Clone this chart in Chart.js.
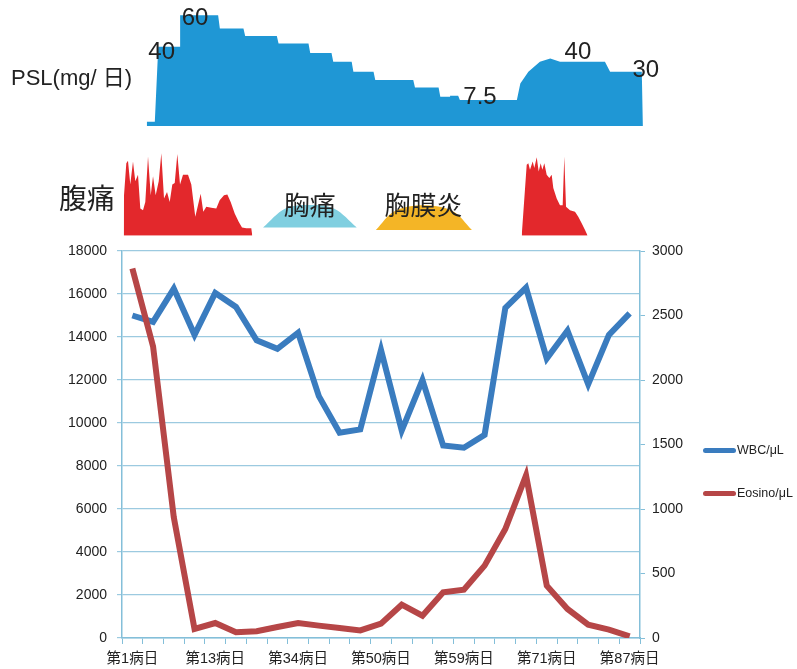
<!DOCTYPE html>
<html>
<head>
<meta charset="utf-8">
<script src="https://cdn.jsdelivr.net/npm/chart.js@4.4.1/dist/chart.umd.min.js"></script>
<style>
  html, body { margin: 0; padding: 0; background: #fff; }
  #wrap { position: relative; width: 797px; height: 669px; overflow: hidden; font-family: "Liberation Sans", Arial, "Noto Sans CJK JP", sans-serif; color: #222; }
  canvas { position: absolute; left: 0; }
  .lbl { position: absolute; white-space: nowrap; line-height: 1; }
  .leg { position: absolute; left: 703px; font-size: 12.5px; line-height: 1; }
  .leg i { display: inline-block; width: 33px; height: 5px; border-radius: 3px; vertical-align: middle; margin-right: 1px; }
  .leg span { vertical-align: middle; }
</style>
</head>
<body>
<div id="wrap">
  <canvas id="pslChart" width="797" height="135" style="top:0"></canvas>
  <canvas id="symChart" width="797" height="105" style="top:140px"></canvas>
  <canvas id="labChart" width="797" height="429" style="top:240px"></canvas>
  <div class="lbl" style="left:11px;top:67px;font-size:22px;">PSL(mg/ 日)</div>
  <div class="lbl" style="left:59px;top:183px;font-size:28px;font-family:'Noto Sans CJK JP',sans-serif;">腹痛</div>
  <div class="leg" style="top:444px"><i style="background:#3a7cbf"></i><span>WBC/μL</span></div>
  <div class="leg" style="top:487px"><i style="background:#b64647"></i><span>Eosino/μL</span></div>
</div>
<script>
'use strict';

// main chart: categories (hospital days), only every 4th one is labelled
const dayLabels = ['第1病日', '', '', '', '第13病日', '', '', '', '第34病日', '', '', '',
  '第50病日', '', '', '', '第59病日', '', '', '', '第71病日', '', '', '', '第87病日'];

const wbc = [15000, 14700, 16250, 14100, 16050, 15400, 13850, 13450, 14200, 11250, 9550, 9700,
  13400, 9650, 12000, 8950, 8850, 9450, 15350, 16300, 13000, 14300, 11800, 14100, 15100];

const eosino = [2865, 2260, 935, 70, 116, 44, 52, 85, 116, 96, 78, 59,
  111, 258, 173, 354, 375, 561, 845, 1260, 406, 225, 103, 65, 13];

const wbcTicks = [0, 2000, 4000, 6000, 8000, 10000, 12000, 14000, 16000, 18000];
const eosTicks = [0, 500, 1000, 1500, 2000, 2500, 3000];

// PSL dose (mg/day) along the day axis of the upper panel
const pslDay = [4.3, 4.3, 5.7, 6.3, 10.1, 10.1, 16.7, 17.0, 21.1, 21.4, 26.9, 27.2, 32.4, 32.7,
  36.4, 36.7, 39.9, 40.2, 43.7, 44.0, 50.6, 50.9, 55.0, 55.3, 57.0, 57.0, 58.4, 58.7,
  68.6, 69.2, 70.6, 72.6, 74.4, 76.1, 83.9, 84.8, 90.3, 90.5];
const pslDose = [0, 2.3, 2.3, 42.9, 42.9, 60, 60, 52.8, 52.8, 48.8, 48.8, 44.7, 44.7, 39.6,
  39.6, 34.8, 34.8, 29.4, 29.4, 24.9, 24.9, 20.9, 20.9, 15.9, 15.9, 16.4, 16.4, 14.1,
  14.1, 23.0, 29.4, 34.8, 36.6, 34.8, 34.8, 29.4, 29.4, 0];
const pslNotes = [
  { text: '40', day: 6.9, dose: 40 },
  { text: '60', day: 12.7, dose: 58.5 },
  { text: '7.5', day: 62.2, dose: 15.7 },
  { text: '40', day: 79.2, dose: 40 },
  { text: '30', day: 91.0, dose: 30.3 }
];

// symptom intensity (0-100) along the same day axis
const abd1Day = [0.30, 0.35, 0.75, 1.04, 1.44, 1.91, 2.31, 2.78, 3.18, 3.65, 4.05, 4.52, 4.99, 5.39,
  5.85, 6.38, 6.83, 7.30, 7.82, 8.29, 8.74, 9.16, 9.61, 10.08, 10.60, 11.47, 12.04, 12.73,
  13.20, 13.67, 14.12, 14.65, 15.51, 16.38, 16.97, 17.72, 18.30, 18.88, 19.58, 20.27, 20.85,
  21.60, 22.46, 22.64];
const abd1Level = [0, 49, 88, 91, 62, 90, 66, 74, 33, 31, 41, 96, 49, 72,
  49, 66, 100, 45, 53, 41, 62, 64, 99, 62, 74, 74, 62, 23,
  37, 51, 29, 35, 34, 33, 43, 49, 50, 41, 27, 17, 10,
  9, 9, 0];
const abd2Day = [69.44, 70.31, 70.59, 70.88, 71.35, 71.63, 72.05, 72.39, 72.74, 73.02, 73.37, 73.78,
  74.24, 74.65, 74.93, 75.52, 76.09, 76.56, 76.84, 77.14, 77.83, 78.70, 79.27, 79.86, 80.44, 80.90];
const abd2Level = [0, 86, 88, 80, 90, 82, 95, 78, 88, 80, 88, 74,
  70, 74, 58, 45, 37, 37, 96, 35, 31, 29, 23, 15, 7, 0];
const chestDay = [24.5, 28.4, 32.6, 36.8, 40.8];
const chestLevel = [10, 33, 37.3, 33, 10];
const pleuDay = [44.1, 47.4, 52.4, 57.4, 60.8];
const pleuLevel = [7, 30, 37, 30, 7];
const symNotes = [
  { text: '胸痛', day: 32.6, level: 37.3 },
  { text: '胸膜炎', day: 52.4, level: 37.3 }
];

const pairs = (xs, ys) => xs.map((x, i) => ({ x: x, y: ys[i] }));

Chart.defaults.font.family = '"Liberation Sans", Arial, "Noto Sans CJK JP", sans-serif';
Chart.defaults.color = '#222';

function notesPlugin(list, font, yKey) {
  return {
    id: 'notes',
    afterDatasetsDraw(chart) {
      const ctx = chart.ctx;
      ctx.save();
      ctx.font = font;
      ctx.fillStyle = '#222';
      ctx.textAlign = 'center';
      ctx.textBaseline = 'middle';
      list.forEach(n => {
        ctx.fillText(n.text, chart.scales.x.getPixelForValue(n.day), chart.scales.y.getPixelForValue(n[yKey]));
      });
      ctx.restore();
    }
  };
}

const hidden = { display: false };
const plain = v => String(v);
// fixed axis widths, and no extra room above the top tick label
const fixWidth = w => s => { s.width = w; s.paddingTop = 0; s.paddingBottom = 0; };

new Chart(document.getElementById('pslChart'), {
  type: 'line',
  data: {
    datasets: [{
      label: 'PSL',
      data: pairs(pslDay, pslDose),
      backgroundColor: '#1f97d5',
      borderWidth: 0,
      pointRadius: 0,
      fill: 'origin',
      tension: 0
    }]
  },
  options: {
    responsive: false,
    animation: false,
    layout: { padding: { left: 122, right: 151.2, top: 6, bottom: 9 } },
    plugins: { legend: hidden, tooltip: { enabled: false } },
    scales: {
      x: { type: 'linear', min: 0, max: 91, display: false },
      y: { min: 0, max: 65, display: false }
    }
  },
  plugins: [notesPlugin(pslNotes, '24px "Liberation Sans", Arial, sans-serif', 'dose')]
});

new Chart(document.getElementById('symChart'), {
  type: 'line',
  data: {
    datasets: [
      { label: '腹痛', data: pairs(abd1Day, abd1Level), backgroundColor: '#e3282c', fill: 'origin' },
      { label: '腹痛2', data: pairs(abd2Day, abd2Level), backgroundColor: '#e3282c', fill: 'origin' },
      { label: '胸痛', data: pairs(chestDay, chestLevel), backgroundColor: '#80cfe0', fill: { value: 10 }, tension: 0.35 },
      { label: '胸膜炎', data: pairs(pleuDay, pleuLevel), backgroundColor: '#f4b526', fill: { value: 7 }, tension: 0.35 }
    ]
  },
  options: {
    responsive: false,
    animation: false,
    elements: { line: { borderWidth: 0 }, point: { radius: 0 } },
    layout: { padding: { left: 122, right: 151.2, top: 5, bottom: 9.3 } },
    plugins: { legend: hidden, tooltip: { enabled: false } },
    scales: {
      x: { type: 'linear', min: 0, max: 91, display: false },
      y: { min: 0, max: 110, display: false }
    }
  },
  plugins: [notesPlugin(symNotes, '26px "Noto Sans CJK JP", sans-serif', 'level')]
});

const axisBlue = '#84bfd9';

new Chart(document.getElementById('labChart'), {
  type: 'line',
  data: {
    labels: dayLabels,
    datasets: [{
      label: 'WBC/μL',
      data: wbc,
      yAxisID: 'y',
      borderColor: '#3a7cbf',
      borderWidth: 6,
      pointRadius: 0,
      tension: 0,
      order: 1
    }, {
      label: 'Eosino/μL',
      data: eosino,
      yAxisID: 'y2',
      borderColor: '#b64647',
      borderWidth: 6,
      pointRadius: 0,
      tension: 0,
      order: 0
    }]
  },
  options: {
    responsive: false,
    animation: false,
    layout: { padding: { top: 11, left: 0, right: 0, bottom: 0 } },
    plugins: { legend: hidden, tooltip: { enabled: false } },
    scales: {
      x: {
        offset: true,
        grid: { offset: true, drawOnChartArea: false, tickLength: 6, color: axisBlue },
        border: { color: axisBlue, width: 1.5 },
        ticks: { autoSkip: false, maxRotation: 0, padding: 6, color: '#222',
          font: { size: 14.5, family: '"Liberation Sans", "Noto Sans CJK JP", sans-serif' } },
        afterFit: s => { s.height = 31; }
      },
      y: {
        position: 'left',
        min: wbcTicks[0],
        max: wbcTicks[wbcTicks.length - 1],
        afterBuildTicks: s => { s.ticks = wbcTicks.map(v => ({ value: v })); },
        grid: { color: '#9ccae0', lineWidth: 1.2, tickLength: 5 },
        border: { color: axisBlue, width: 1.5 },
        ticks: { padding: 10, color: '#222', font: { size: 14 }, callback: plain },
        afterFit: fixWidth(122)
      },
      y2: {
        position: 'right',
        min: eosTicks[0],
        max: eosTicks[eosTicks.length - 1],
        afterBuildTicks: s => { s.ticks = eosTicks.map(v => ({ value: v })); },
        grid: { drawOnChartArea: false, color: axisBlue, tickLength: 5 },
        border: { color: axisBlue, width: 1.5 },
        ticks: { padding: 7, color: '#222', font: { size: 14 }, callback: plain },
        afterFit: fixWidth(157)
      }
    }
  }
});
</script>
</body>
</html>
